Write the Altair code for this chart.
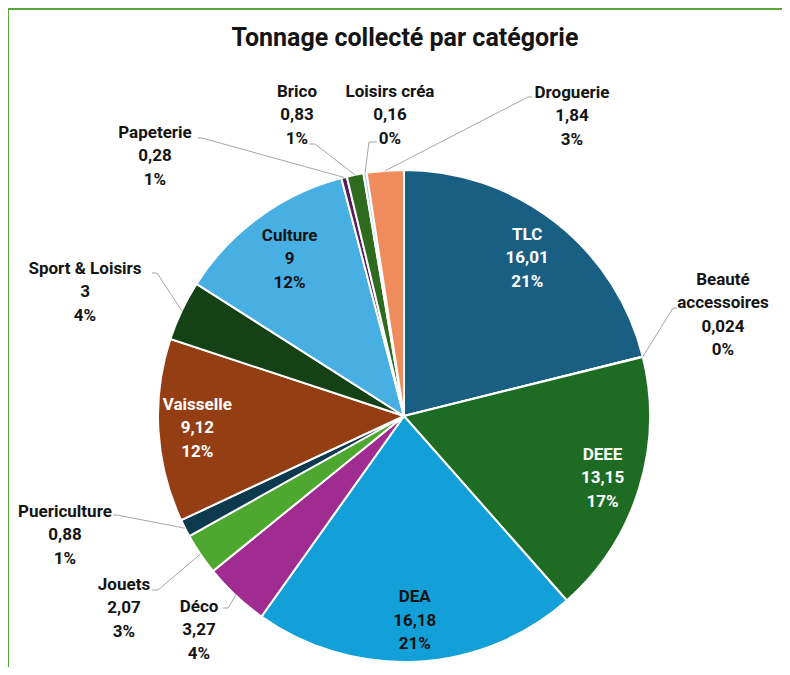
import math
import altair as alt
import pandas as pd

# ---------------- data ----------------
TITLE = "Tonnage collecté par catégorie"
categories = ["TLC", "Beauté accessoires", "DEEE", "DEA", "Déco", "Jouets",
              "Puericulture", "Vaisselle", "Sport & Loisirs", "Culture",
              "Papeterie", "Brico", "Loisirs créa", "Droguerie"]
tonnes = [16.01, 0.024, 13.15, 16.18, 3.27, 2.07, 0.88, 9.12, 3, 9,
          0.28, 0.83, 0.16, 1.84]
percents = [21, 0, 17, 21, 4, 3, 1, 12, 4, 12, 1, 1, 0, 3]
colors = ["#195f84", "#8fb8c9", "#1e6b24", "#139fd8", "#a02c92", "#4ea72e",
          "#0e3a4e", "#963e13", "#144216", "#47afe2", "#5a1a5c", "#2f6b1f",
          "#9fd0ec", "#ef8c5e"]

# ---------------- layout ----------------
W, H = 774, 659
CX, CY = 396, 408
R = 246
LINE_H = 23.5
LABEL_FONT = "Roboto, Liberation Sans, sans-serif"
TITLE_FONT = "Roboto, Liberation Sans, sans-serif"
NAME_LINES = {"Beauté accessoires": "Beauté\naccessoires"}
# labels inside slices: radius of label centre
INSIDE = {"TLC": 200, "DEEE": 208, "DEA": 205, "Vaisselle": 207, "Culture": 194}
WHITE_TEXT = {"TLC", "DEEE", "Vaisselle"}
# outside labels: (label dx, label dy, elbow dx, elbow dy, end dx) from pie centre
OUTSIDE = {
    "Beauté accessoires": (319, -101, 269, -108, 273),
    "Droguerie": (168, -300, 124, -319, 128),
    "Loisirs créa": (-14, -301, -35, -274, -27),
    "Brico": (-107, -301, -89, -272, -95),
    "Papeterie": (-249, -260, -202, -278, -206),
    "Sport & Loisirs": (-319, -124, -247, -143, -252),
    "Puericulture": (-339, 119, -287, 99, -291),
    "Jouets": (-280, 192, -246, 174, -252),
    "Déco": (-205, 214, -176, 192, -181),
}

def fr(v):
    return f"{v:g}".replace(".", ",")

total = sum(tonnes)
pie_df = pd.DataFrame({"cat": categories, "tonnes": tonnes,
                       "idx": list(range(len(categories)))})

text_rows, line_rows = [], []
cum = 0.0
for cat, v, p in zip(categories, tonnes, percents):
    a0 = cum / total * 2 * math.pi
    cum += v
    a1 = cum / total * 2 * math.pi
    mid = (a0 + a1) / 2
    label = f"{NAME_LINES.get(cat, cat)}\n{fr(v)}\n{p}%"
    n = label.count("\n") + 1
    shift = (n - 1) / 2 * LINE_H  # first line sits at y with baseline middle
    if cat in INSIDE:
        r = INSIDE[cat]
        text_rows.append({"x": CX + r * math.sin(mid),
                          "y": CY - r * math.cos(mid) - shift,
                          "label": label, "white": cat in WHITE_TEXT})
    else:
        ldx, ldy, edx, edy, endx = OUTSIDE[cat]
        text_rows.append({"x": CX + ldx, "y": CY + ldy - shift,
                          "label": label, "white": False})
        pts = [(CX + R * math.sin(mid), CY - R * math.cos(mid)),
               (CX + edx, CY + edy), (CX + endx, CY + edy)]
        for k, (x, y) in enumerate(pts):
            line_rows.append({"cat": cat, "k": k, "x": x, "y": y})

text_df = pd.DataFrame(text_rows)
line_df = pd.DataFrame(line_rows)

xs = alt.Scale(domain=[0, W], nice=False, zero=False)
ys = alt.Scale(domain=[0, H], nice=False, zero=False, reverse=True)

pie = alt.Chart(pie_df).mark_arc(outerRadius=R, stroke="white", strokeWidth=2).encode(
    theta=alt.Theta("tonnes:Q", stack=True),
    color=alt.Color("cat:N", scale=alt.Scale(domain=categories, range=colors), legend=None),
    order=alt.Order("idx:Q"),
    x=alt.value(CX), y=alt.value(CY),
)

leaders = alt.Chart(line_df).mark_line(color="#a6a6a6", strokeWidth=1).encode(
    x=alt.X("x:Q", scale=xs, axis=None),
    y=alt.Y("y:Q", scale=ys, axis=None),
    detail="cat:N",
    order="k:Q",
)

def text_layer(white):
    return alt.Chart(text_df[text_df["white"] == white]).mark_text(
        font=LABEL_FONT, fontSize=17, fontWeight="bold", lineBreak="\n",
        lineHeight=LINE_H, align="center", baseline="middle",
        color="#ffffff" if white else "#141414",
    ).encode(
        x=alt.X("x:Q", scale=xs, axis=None),
        y=alt.Y("y:Q", scale=ys, axis=None),
        text="label:N",
    )

title = alt.Chart(pd.DataFrame({"t": [TITLE]})).mark_text(
    font=TITLE_FONT, fontSize=25, fontWeight="bold", color="#141414",
    align="center", baseline="middle",
).encode(text="t:N", x=alt.value(397), y=alt.value(30))

border_left = alt.Chart(pd.DataFrame({"a": [0]})).mark_rule(
    color="#56a83a", strokeWidth=2).encode(x=alt.value(0), y=alt.value(1), y2=alt.value(H))
border_top = alt.Chart(pd.DataFrame({"a": [0]})).mark_rule(
    color="#56a83a", strokeWidth=2).encode(x=alt.value(0), x2=alt.value(W), y=alt.value(1))

chart = alt.layer(border_left, border_top, pie, leaders,
                  text_layer(False), text_layer(True), title).properties(
    width=W, height=H, padding=0,
    autosize=alt.AutoSizeParams(type="none"),
).configure_view(stroke=None)

chart.save("out.html", embed_options={"renderer": "svg", "actions": False})
